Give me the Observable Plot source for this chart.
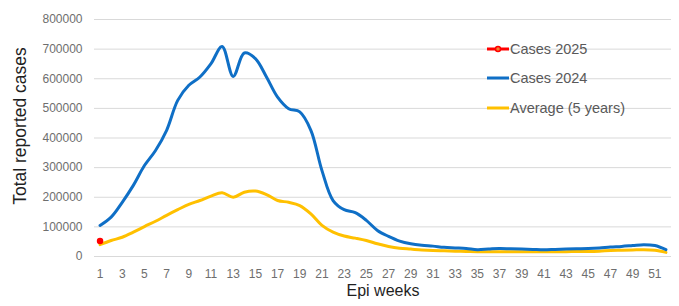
<!DOCTYPE html>
<html><head><meta charset="utf-8">
<script src="https://cdn.jsdelivr.net/npm/d3@7"></script>
<script src="https://cdn.jsdelivr.net/npm/@observablehq/plot@0.6"></script>
<style>
body{margin:0;background:#fff;}
#wrap{position:relative;width:679px;height:306px;overflow:hidden;}
.legend{position:absolute;left:487px;top:34px;font-family:"Liberation Sans",Arial,sans-serif;font-size:14.5px;color:#595959;}
.row{display:flex;align-items:center;height:29.6px;}
.row svg{margin-right:1px;}
</style></head><body>
<div id="wrap"></div>
<script>
const weeks = [1,2,3,4,5,6,7,8,9,10,11,12,13,14,15,16,17,18,19,20,21,22,23,24,25,26,27,28,29,30,31,32,33,34,35,36,37,38,39,40,41,42,43,44,45,46,47,48,49,50,51,52];
const cases2024 = [105000,133000,183000,240000,307000,358000,426000,527000,578000,606000,651000,709000,608000,687000,668000,606000,538000,499000,488000,426000,290000,189000,158000,148000,122000,88000,68000,52000,43000,38000,35000,31000,29000,27000,23000,25000,27000,26000,25000,24000,23000,24000,25000,26000,27000,29000,32000,34000,37000,40000,37000,23000];
const average5y = [40000,54000,65000,82000,101000,119000,139000,158000,176000,189000,204000,215000,200000,217000,221000,209000,189000,183000,172000,144000,105000,82000,69000,62000,54000,43000,34000,28000,25000,22000,20000,19000,18000,17000,16000,16000,16000,16000,16000,16000,16000,16000,16000,17000,17000,18000,20000,21000,22000,23000,21000,14000];
const weeks2025 = [1];
const cases2025 = [52000];
const xTicks = [1,3,5,7,9,11,13,15,17,19,21,23,25,27,29,31,33,35,37,39,41,43,45,47,49,51];
const yTicks = [0,100000,200000,300000,400000,500000,600000,700000,800000];
const seriesNames = ["Cases 2025","Cases 2024","Average (5 years)"];
const seriesColors = ["#FF0000","#0F6FC6","#FFC000"];

const d2024 = weeks.map((w,i)=>({week:w, value:cases2024[i]}));
const dAvg = weeks.map((w,i)=>({week:w, value:average5y[i]}));
const d2025 = weeks2025.map((w,i)=>({week:w, value:cases2025[i]}));

const plot = Plot.plot({
  width: 679, height: 306,
  marginLeft: 94, marginRight: 8, marginTop: 19, marginBottom: 50,
  style: {fontFamily: "Liberation Sans, Arial, sans-serif", fontSize: "12px", background: "white"},
  x: {type: "linear", domain: [0.5, 52.5], label: null},
  y: {domain: [0, 800000], label: null},
  marks: [
    Plot.gridY(yTicks, {stroke: "#d9d9d9", strokeOpacity: 1, strokeWidth: 1}),
    Plot.axisY(yTicks, {tickSize: 0, tickPadding: 12, tickFormat: d => String(d), fill: "#6e6e6e", fontSize: 12}),
    Plot.axisX(xTicks, {tickSize: 0, tickPadding: 13, tickFormat: d => String(d), fill: "#6e6e6e", fontSize: 12}),
    Plot.lineY(dAvg, {x: "week", y: "value", stroke: seriesColors[2], strokeWidth: 3, curve: "catmull-rom"}),
    Plot.lineY(d2024, {x: "week", y: "value", stroke: seriesColors[1], strokeWidth: 3, curve: "catmull-rom"}),
    Plot.dot(d2025, {x: "week", y: "value", r: 2.5, fill: seriesColors[0], stroke: seriesColors[0], strokeWidth: 1.5}),
    Plot.text(["Total reported cases"], {frameAnchor: "left", textAnchor: "middle", dx: -74, dy: -12, rotate: -90, fontSize: 17.5, fill: "#1f1f1f"}),
    Plot.text(["Epi weeks"], {frameAnchor: "bottom", dy: 39, fontSize: 16, fill: "#1f1f1f"})
  ]
});
const wrap = document.getElementById("wrap");
wrap.appendChild(plot);

const legend = document.createElement("div");
legend.className = "legend";
seriesNames.forEach((name, i) => {
  const row = document.createElement("div");
  row.className = "row";
  const marker = i === 0 ? `<circle cx="11" cy="5" r="2.5" fill="#F08030" stroke="${seriesColors[i]}" stroke-width="1.5"/>` : "";
  row.innerHTML = `<svg width="22" height="10"><line x1="0" x2="22" y1="5" y2="5" stroke="${seriesColors[i]}" stroke-width="3"/>${marker}</svg><span>${name}</span>`;
  legend.appendChild(row);
});
wrap.appendChild(legend);
</script>
</body></html>
